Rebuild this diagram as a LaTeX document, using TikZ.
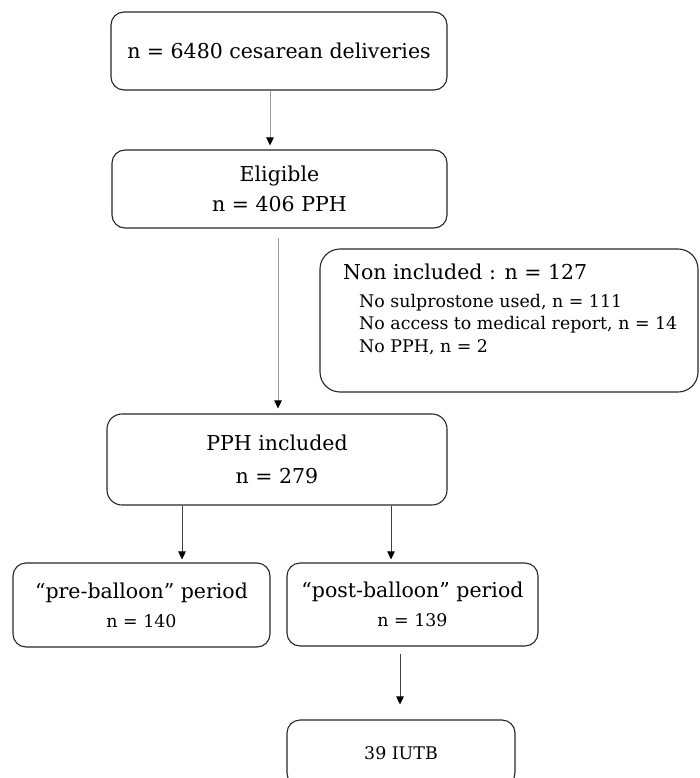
\documentclass[tikz,border=0pt]{standalone}
\usepackage{fontspec}
\setmainfont{DejaVu Serif}
\usetikzlibrary{arrows.meta}
\newcommand\bigtxt{\fontsize{20.5}{30}\selectfont}
\newcommand\smalltxt{\fontsize{17.4}{22}\selectfont}
\begin{document}
\begin{tikzpicture}[x=1pt,y=-1pt,
  box/.style={draw=black!85, line width=1.1pt, rounded corners=13pt, inner sep=0pt, align=center},
  arr/.style={draw=black!75, line width=0.8pt, -{Triangle[width=7.5pt,length=8pt,color=black]}},
  arrlight/.style={arr, draw=black!40},
  lbl/.style={anchor=base west, inner sep=0pt}]
\useasboundingbox (0,0) rectangle (700,778);
% boxes
\node[box, minimum width=336pt, minimum height=78pt, font=\bigtxt] (b1) at (279,51) {n = 6480 cesarean deliveries};
\node[box, minimum width=335pt, minimum height=78pt, font=\fontsize{20.5}{30}\selectfont] (b2) at (279.5,189) {Eligible\\n = 406 PPH};
\node[box, minimum width=378pt, minimum height=143pt, rounded corners=20pt] (ni) at (509,320.5) {};
\node[box, minimum width=340pt, minimum height=91pt, rounded corners=15pt, font=\fontsize{20.5}{33}\selectfont] (b3) at (277,459.5) {PPH included\\n = 279};
\node[box, minimum width=257pt, minimum height=84pt, font=\fontsize{20.5}{29}\selectfont] (pre) at (141.5,605) {“pre-balloon” period\\{\smalltxt n = 140}};
\node[box, minimum width=251pt, minimum height=83pt, font=\fontsize{20.5}{29}\selectfont] (post) at (412.5,604.5) {“post-balloon” period\\{\smalltxt n = 139}};
\node[box, minimum width=228pt, minimum height=66pt, font=\smalltxt] (iutb) at (401,753) {39 IUTB};
% non included text
\node[lbl, font=\bigtxt] (ni0) at (343,279) {Non included : n = 127};
\node[lbl, font=\smalltxt] (ni1) at (359,307) {No sulprostone used, n = 111};
\node[lbl, font=\smalltxt] (ni2) at (359,329) {No access to medical report, n = 14};
\node[lbl, font=\smalltxt] (ni3) at (359,352) {No PPH, n = 2};
% arrow columns
\coordinate (c1) at (270,0);
\coordinate (c2) at (278,0);
\coordinate (c3) at (182,0);
\coordinate (c4) at (391,0);
\coordinate (c5) at (400,0);
\draw[arrlight, shorten >=4pt] (b1.south -| c1) -- (b2.north -| c1);
\draw[arrlight, shorten <=9pt, shorten >=5pt] (b2.south -| c2) -- (b3.north -| c2);
\draw[arr, shorten >=3pt] (b3.south -| c3) -- (pre.north -| c3);
\draw[arr, shorten >=3pt] (b3.south -| c4) -- (post.north -| c4);
\draw[arr, shorten <=7pt, shorten >=15pt] (post.south -| c5) -- (iutb.north -| c5);
\end{tikzpicture}
\end{document}
